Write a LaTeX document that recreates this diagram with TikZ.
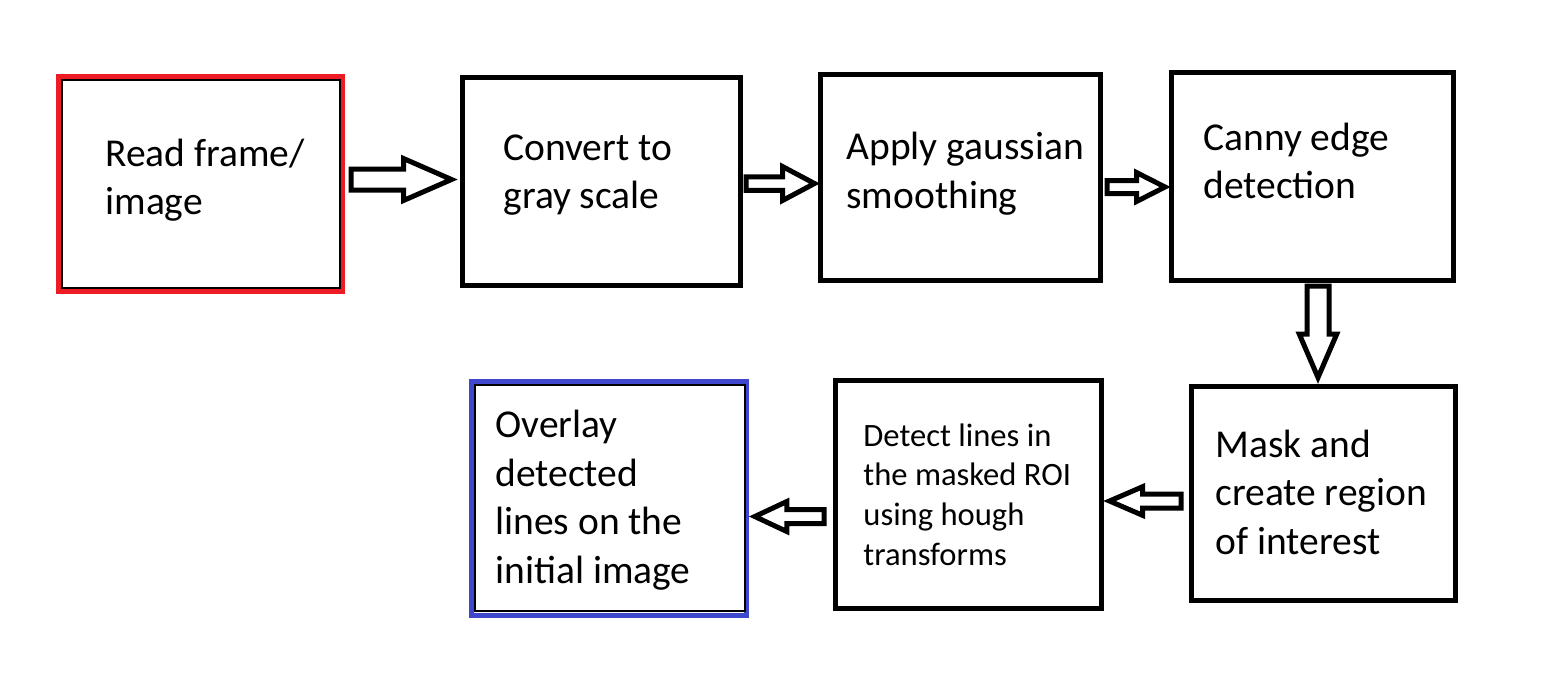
\documentclass[tikz,border=0pt]{standalone}
\usepackage{fontspec}
\setmainfont{Carlito}
\usetikzlibrary{calc}
\definecolor{pred}{RGB}{237,28,36}
\definecolor{pblue}{RGB}{63,72,204}
\tikzset{
  box/.style={draw=black, line width=2.5pt, inner sep=0pt, outer sep=0pt},
  inbox/.style={draw=black, line width=1pt, inner sep=0pt, outer sep=0pt},
  txt/.style={align=left, inner sep=0pt, anchor=base west, font=\fontsize{19.75pt}{24.25pt}\selectfont},
  smalltxt/.style={align=left, inner sep=0pt, anchor=base west, font=\fontsize{16.3pt}{19.8pt}\selectfont},
  barrow/.style={draw=black, fill=white, line width=2.5pt, line join=miter}
}
\newcommand\hblock[5]{\draw[barrow] ($(#1)+(0,#3)$) -- ($(#2)+(#5,#3)$) -- ($(#2)+(#5,#4)$) -- (#2) -- ($(#2)+(#5,-#4)$) -- ($(#2)+(#5,-#3)$) -- ($(#1)+(0,-#3)$) -- cycle;}
\newcommand\vblock[5]{\draw[barrow] ($(#1)+(#3,0)$) -- ($(#2)+(#3,#5)$) -- ($(#2)+(#4,#5)$) -- (#2) -- ($(#2)+(-#4,#5)$) -- ($(#2)+(-#3,#5)$) -- ($(#1)+(-#3,0)$) -- cycle;}
\begin{document}
\begin{tikzpicture}[x=0.5pt, y=-0.5pt]
\fill[white] (0,0) rectangle (1542,677);
\useasboundingbox (0,0) rectangle (1542,677);

% boxes
\node[box, draw=pred, minimum width=142.1pt, minimum height=107.25pt] (b1) at (200.4,183.75) {};
\node[inbox, minimum width=139pt, minimum height=103.75pt] (b1i) at (201,183.75) {};
\node[box, minimum width=139.25pt, minimum height=103.9pt] (b2) at (601.25,181.4) {};
\node[box, minimum width=139.9pt, minimum height=103pt] (b3) at (960.6,177) {};
\node[box, minimum width=141pt, minimum height=104pt] (b4) at (1312.5,176) {};
\node[box, minimum width=131.9pt, minimum height=106.75pt] (b5) at (1323.6,493.25) {};
\node[box, minimum width=133pt, minimum height=113.75pt] (b6) at (968,494.25) {};
\node[box, draw=pblue, minimum width=137.9pt, minimum height=117.4pt] (b7) at (608.9,498.4) {};
\node[inbox, minimum width=134.75pt, minimum height=113pt] (b7i) at (609.75,498) {};

% texts (anchor = baseline of the last line)
\node[txt] (t1) at (105,214.5) {Read frame/\\image};
\node[txt] (t2) at (503,208.5) {Convert to\\gray scale};
\node[txt] (t3) at (846,208) {Apply gaussian\\smoothing};
\node[txt] (t4) at (1203,198.5) {Canny edge\\detection};
\node[txt] (t5) at (1215,554) {Mask and\\create region\\of interest};
\node[smalltxt] (t6) at (863,565) {Detect lines in\\the masked ROI\\using hough\\transforms};
\node[txt] (t7) at (495,583) {Overlay\\detected\\lines on the\\initial image};

% block arrows
\coordinate (a1s) at (351,179.5);
\coordinate (a1t) at ($(a1s -| b2.west)+(-10.5,0)$);
\hblock{a1s}{a1t}{10.5}{21}{-48}
\coordinate (a2s) at (746,183.5);
\coordinate (a2t) at ($(a2s -| b3.west)+(-6.2,0)$);
\hblock{a2s}{a2t}{6.75}{17}{-32}
\coordinate (a3s) at (1107,187);
\coordinate (a3t) at ($(a3s -| b4.west)+(-6.5,0)$);
\hblock{a3s}{a3t}{6.5}{14.5}{-28.5}
\coordinate (a4s) at (1318,286);
\coordinate (a4t) at ($(a4s |- b5.north)+(0,-9)$);
\vblock{a4s}{a4t}{11}{18.75}{-43.5}
\coordinate (a5s) at (1181,501);
\coordinate (a5t) at ($(a5s -| b6.east)+(8.5,0)$);
\hblock{a5s}{a5t}{7}{14.25}{33}
\coordinate (a6s) at (824,516.5);
\coordinate (a6t) at ($(a6s -| b7.east)+(8,0)$);
\hblock{a6s}{a6t}{7}{15}{32}
\end{tikzpicture}
\end{document}
